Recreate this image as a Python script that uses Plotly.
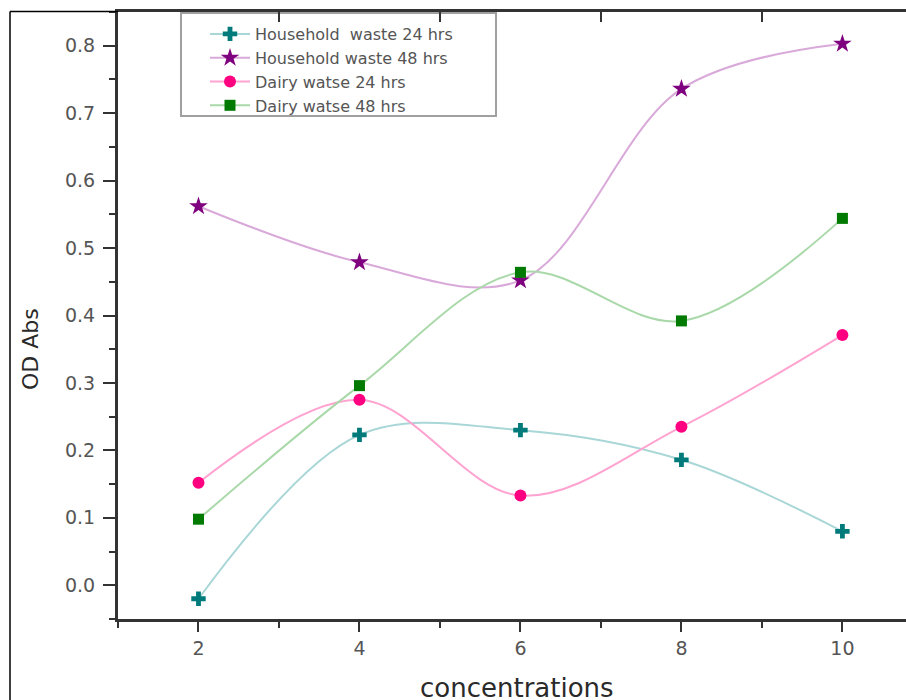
import plotly.graph_objects as go

concentrations = [2, 4, 6, 8, 10]
household_24 = [-0.020, 0.223, 0.230, 0.186, 0.080]
household_48 = [0.562, 0.479, 0.452, 0.736, 0.803]
dairy_24 = [0.152, 0.275, 0.133, 0.235, 0.371]
dairy_48 = [0.098, 0.296, 0.464, 0.392, 0.544]

series_names = ["Household  waste 24 hrs", "Household waste 48 hrs",
                "Dairy watse 24 hrs", "Dairy watse 48 hrs"]
y_ticks = [0.0, 0.1, 0.2, 0.3, 0.4, 0.5, 0.6, 0.7, 0.8]
x_ticks = [2, 4, 6, 8, 10]
top_ticks = [3, 5, 7, 9]
x_title = "concentrations"
y_title = "OD Abs"

W, H = 906, 700
L, R, T, B = 118, 0, 12, 81
PW, PH = W - L - R, H - T - B

def px(x):
    return (x - L) / PW

def py(y):
    return (H - B - y) / PH

FONT = "DejaVu Sans"
AX = "#333333"

styles = [
    dict(line="#a9d6d6", marker="#007a7a", symbol="cross", size=12),
    dict(line="#d9a9d9", marker="#7f007f", symbol="star", size=14),
    dict(line="#ffa3d1", marker="#ff0080", symbol="circle", size=12),
    dict(line="#a9d8a9", marker="#007a00", symbol="square", size=11),
]
data = [household_24, household_48, dairy_24, dairy_48]

fig = go.Figure()
for name, ys, st in zip(series_names, data, styles):
    fig.add_trace(go.Scatter(
        x=concentrations, y=ys, name=name, mode="lines+markers",
        line=dict(color=st["line"], width=2, shape="spline", smoothing=1.0),
        marker=dict(color=st["marker"], symbol=st["symbol"], size=st["size"],
                    line=dict(width=0)),
    ))

# invisible trace for top axis ticks
fig.add_trace(go.Scatter(x=[1, 10.79], y=[0, 0], xaxis="x2", mode="markers",
                         marker=dict(opacity=0), showlegend=False, hoverinfo="skip"))

fig.update_layout(
    width=W, height=H,
    margin=dict(l=L, r=R, t=T, b=B),
    paper_bgcolor="white", plot_bgcolor="white",
    font=dict(family=FONT, color="#555555"),
    showlegend=True,
    legend=dict(
        x=px(205), y=py(17), xanchor="left", yanchor="top",
        bgcolor="rgba(0,0,0,0)", borderwidth=0,
        font=dict(family=FONT, size=16, color="#555555"),
        tracegroupgap=0, itemwidth=40,
    ),
    xaxis=dict(
        range=[1, 10.79], tickvals=x_ticks, ticktext=[str(v) for v in x_ticks],
        showgrid=False, zeroline=False, showline=True, linecolor=AX, linewidth=3,
        ticks="outside", ticklen=10, tickwidth=2, tickcolor=AX,
        minor=dict(ticks="outside", ticklen=6, tickwidth=2, tickcolor=AX, dtick=1, tick0=1, showgrid=False),
        tickfont=dict(family=FONT, size=19, color="#555555"),
        mirror=False,
    ),
    xaxis2=dict(
        range=[1, 10.79], overlaying="x", side="top", anchor="y",
        tickvals=top_ticks, showticklabels=False, ticks="inside", ticklen=10,
        tickwidth=2, tickcolor=AX, showline=True, linecolor=AX, linewidth=3,
        showgrid=False, zeroline=False,
    ),
    yaxis=dict(
        range=[-0.05, 0.85], tickvals=y_ticks, ticktext=[f"{v:.1f}" for v in y_ticks],
        showgrid=False, zeroline=False, showline=True, linecolor=AX, linewidth=3,
        ticks="outside", ticklen=12, tickwidth=2, tickcolor=AX,
        minor=dict(ticks="outside", ticklen=6, tickwidth=2, tickcolor=AX, dtick=0.1, tick0=0.05, showgrid=False),
        tickfont=dict(family=FONT, size=19, color="#555555"),
        ticklabelstandoff=4,
    ),
    annotations=[
        dict(text=x_title, xref="paper", yref="paper", x=px(517), y=py(688),
             xanchor="center", yanchor="middle", showarrow=False,
             font=dict(family=FONT, size=26, color="#2a2a2a")),
        dict(text=y_title, xref="paper", yref="paper", x=px(30), y=py(349),
             xanchor="center", yanchor="middle", showarrow=False, textangle=-90,
             font=dict(family=FONT, size=22, color="#2a2a2a")),
    ],
    shapes=[
        dict(type="line", xref="paper", yref="paper", x0=px(10), x1=px(10), y0=py(11.5), y1=py(700),
             line=dict(color="black", width=1.5), layer="above"),
        dict(type="line", xref="paper", yref="paper", x0=px(10), x1=px(118), y0=py(11.5), y1=py(11.5),
             line=dict(color="black", width=1.5), layer="above"),
        dict(type="rect", xref="paper", yref="paper", x0=px(181), x1=px(496), y0=py(13), y1=py(116),
             line=dict(color="#a0a0a0", width=2), fillcolor="white", layer="below"),
    ],
)

fig.write_html("out.html", config={"displayModeBar": False},
               post_script="document.body.style.margin='0';document.body.style.overflow='hidden';")
